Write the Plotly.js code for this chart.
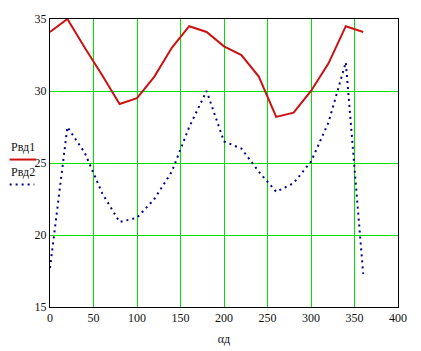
<!DOCTYPE html>
<html>
<head>
<meta charset="utf-8">
<script src="https://cdn.plot.ly/plotly-3.0.1.min.js"></script>
<style>html,body{margin:0;padding:0;background:#fff;}#chart{width:421px;height:351px;}
.gridlayer path{shape-rendering:crispEdges !important;}
</style>
</head>
<body>
<div id="chart"></div>
<script>
var angles = [0,20,40,60,80,100,120,140,160,180,200,220,240,260,280,300,320,340,360];
var pvd1 = [34.1,35.0,33.0,31.1,29.1,29.5,31.0,33.0,34.5,34.1,33.1,32.5,31.0,28.2,28.5,30.0,31.9,34.5,34.1];
var pvd2 = [17.7,27.5,25.7,22.9,20.9,21.2,22.5,24.4,27.5,30.0,26.5,26.0,24.4,23.0,23.6,25.1,27.8,32.0,17.3];
var xTicks = [0,50,100,150,200,250,300,350,400];
var yTicks = [15,20,25,30,35];
var name1 = "Рвд1", name2 = "Рвд2", xTitle = "αд";

var traces = [
  {x: angles, y: pvd1, mode: 'lines', name: name1, line: {color: '#cc1111', width: 2}, showlegend: false},
  {x: angles, y: pvd2, mode: 'lines', name: name2, line: {color: '#00008b', width: 2, dash: '2px,4px'}, showlegend: false}
];
var font = {family: 'Liberation Serif, Times New Roman, serif', size: 12, color: '#111'};
var layout = {
  width: 421, height: 351,
  margin: {l: 50, r: 23, t: 19, b: 44},
  paper_bgcolor: '#fff', plot_bgcolor: '#fff',
  font: font,
  xaxis: {range: [0, 400], tickvals: xTicks, ticktext: xTicks.map(String), showgrid: true, gridcolor: '#00e000', gridwidth: 1,
          zeroline: false, showline: true, linecolor: '#000', linewidth: 1, mirror: true, ticks: '',
          title: {text: xTitle, font: font, standoff: 10}},
  yaxis: {range: [15, 35], tickvals: yTicks, ticktext: yTicks.map(String), showgrid: true, gridcolor: '#00e000', gridwidth: 1,
          zeroline: false, showline: true, linecolor: '#000', linewidth: 1, mirror: true, ticks: '', ticklabelstandoff: 0},
  annotations: [
    {xref: 'paper', yref: 'paper', x: -0.118, y: 0.555, text: name1, showarrow: false, xanchor: 'left', yanchor: 'middle', font: font},
    {xref: 'paper', yref: 'paper', x: -0.118, y: 0.47, text: name2, showarrow: false, xanchor: 'left', yanchor: 'middle', font: font}
  ],
  shapes: [
    {type: 'line', xref: 'paper', yref: 'paper', x0: -0.116, x1: -0.04, y0: 0.512, y1: 0.512, line: {color: '#cc1111', width: 2}},
    {type: 'line', xref: 'paper', yref: 'paper', x0: -0.116, x1: -0.045, y0: 0.425, y1: 0.425, line: {color: '#00008b', width: 2, dash: '2px,4px'}}
  ]
};
Plotly.newPlot('chart', traces, layout, {staticPlot: true, displayModeBar: false});
</script>
</body>
</html>
